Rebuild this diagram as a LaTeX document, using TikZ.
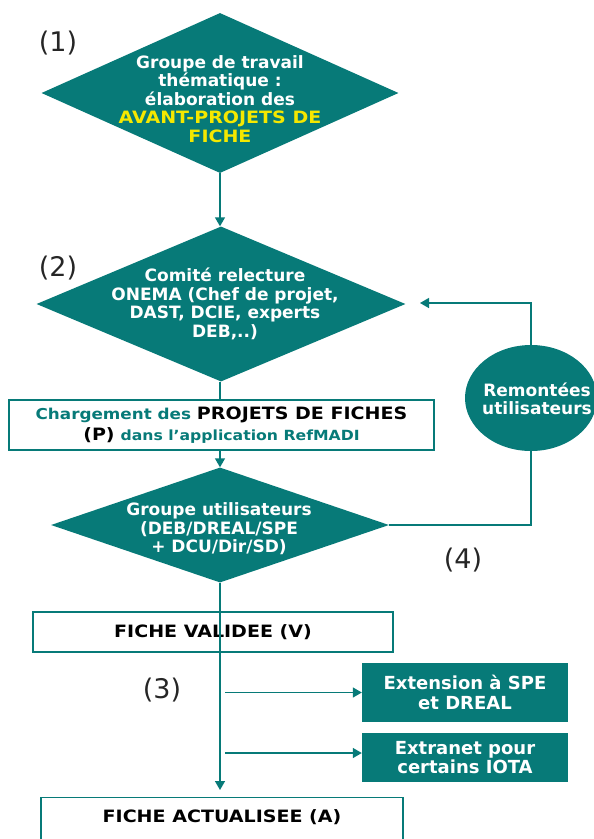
\documentclass[tikz,border=0pt]{standalone}
\usepackage{fontspec}
\setmainfont{DejaVu Sans}
\newfontfamily\widesf[FakeStretch=1.12]{DejaVu Sans}
\usetikzlibrary{shapes.geometric,arrows.meta}
\definecolor{teal1}{RGB}{7,122,120}
\definecolor{yel}{RGB}{245,232,0}
\begin{document}
\begin{tikzpicture}[x=1pt,y=-1pt,
  dia/.style={diamond, fill=teal1, draw=none, inner sep=0pt},
  dtext/.style={text=white, font=\bfseries\fontsize{17}{18.5}\selectfont, align=center, inner sep=0pt},
  wbox/.style={draw=teal1, line width=1.4pt, fill=white, inner sep=0pt},
  gbox/.style={fill=teal1, text=white, font=\bfseries\fontsize{18}{19.5}\selectfont, align=center, inner sep=0pt},
  arr/.style={draw=teal1, line width=1.4pt, -{Triangle[width=10pt,length=9pt]}},
  ln/.style={draw=teal1, line width=1.4pt},
  num/.style={font=\fontsize{27}{30}\selectfont, text=black!85, inner sep=0pt}
]
\useasboundingbox (0,0) rectangle (594,839);
\fill[white] (0,0) rectangle (594,839);

% labels
\node[num] (n1) at (58,43) {(1)};
\node[num] (n2) at (58,268) {(2)};
\node[num] (n3) at (162,690) {(3)};
\node[num] (n4) at (463,560) {(4)};

% diamond 1
\node[dia, minimum width=357pt, minimum height=160pt] (d1) at (220,93) {};
\node[dtext] (t1) at (220,99) {Groupe de travail\\thématique :\\élaboration des\\{\color{yel}\widesf AVANT-PROJETS DE}\\{\color{yel}\widesf FICHE}};

% diamond 2
\node[dia, minimum width=369pt, minimum height=155pt] (d2) at (221,304) {};
\node[dtext] (t2) at (225,304) {Comité relecture\\ONEMA (Chef de projet,\\DAST, DCIE, experts\\DEB,..)};

% box P
\node[wbox, minimum width=425pt, minimum height=50pt, align=center,
      font=\widesf\bfseries\fontsize{15}{21.5}\selectfont] (p) at (221.5,425)
  {{\color{teal1}Chargement des} {\fontsize{17}{21.5}\selectfont PROJETS DE FICHES}\\
   {\fontsize{17}{21.5}\selectfont (P)} {\color{teal1}\fontsize{14}{21.5}\selectfont dans l’application RefMADI}};

% diamond 3
\node[dia, minimum width=338pt, minimum height=115pt] (d3) at (220,525) {};
\node[dtext] (t3) at (219,529) {Groupe utilisateurs\\(DEB/DREAL/SPE\\+ DCU/Dir/SD)};

% circle
\node[ellipse, fill=teal1, minimum width=132pt, minimum height=106pt, inner sep=0pt] (rem) at (531,398) {};
\node[text=white, font=\bfseries\fontsize{17}{18.5}\selectfont, align=center, inner sep=0pt] (remt) at (537,399) {Remontées\\utilisateurs};

% box V
\node[wbox, minimum width=360pt, minimum height=40pt,
      font=\widesf\bfseries\fontsize{17}{19}\selectfont] (v) at (213,632) {FICHE VALIDEE (V)};

% box A
\node[wbox, minimum width=362pt, minimum height=70pt, anchor=north,
      label={[anchor=north, yshift=-9pt, font=\widesf\bfseries\fontsize{17}{19}\selectfont]north:FICHE ACTUALISEE (A)}] (a) at (222,797) {};

% green boxes
\node[gbox, minimum width=206pt, minimum height=59pt] (e1) at (465,692.5) {Extension à SPE\\et DREAL};
\node[gbox, minimum width=206pt, minimum height=49pt] (e2) at (465,757.5) {Extranet pour\\certains IOTA};

% connectors
\draw[arr] (d1.south -| 220,0) -- (220,0 |- d2.north);
\draw[ln] (220,0 |- d2.south) -- (220,0 |- p.north);
\draw[arr] (220,0 |- p.south) -- (220,0 |- d3.north);
\coordinate (aend) at (220,790);
\draw[arr] (220,0 |- d3.south) -- (aend);

\coordinate (s1) at (225,692.5);
\coordinate (s2) at (225,753);
\draw[arr] (s1) -- (s1 -| e1.west);
\draw[arr] (s2) -- (s2 -| e2.west);

\coordinate (fb) at (420,303);
\draw[ln] (d3.east) -| (rem.south);
\draw[arr] (rem.north) |- (fb);
\end{tikzpicture}
\end{document}
